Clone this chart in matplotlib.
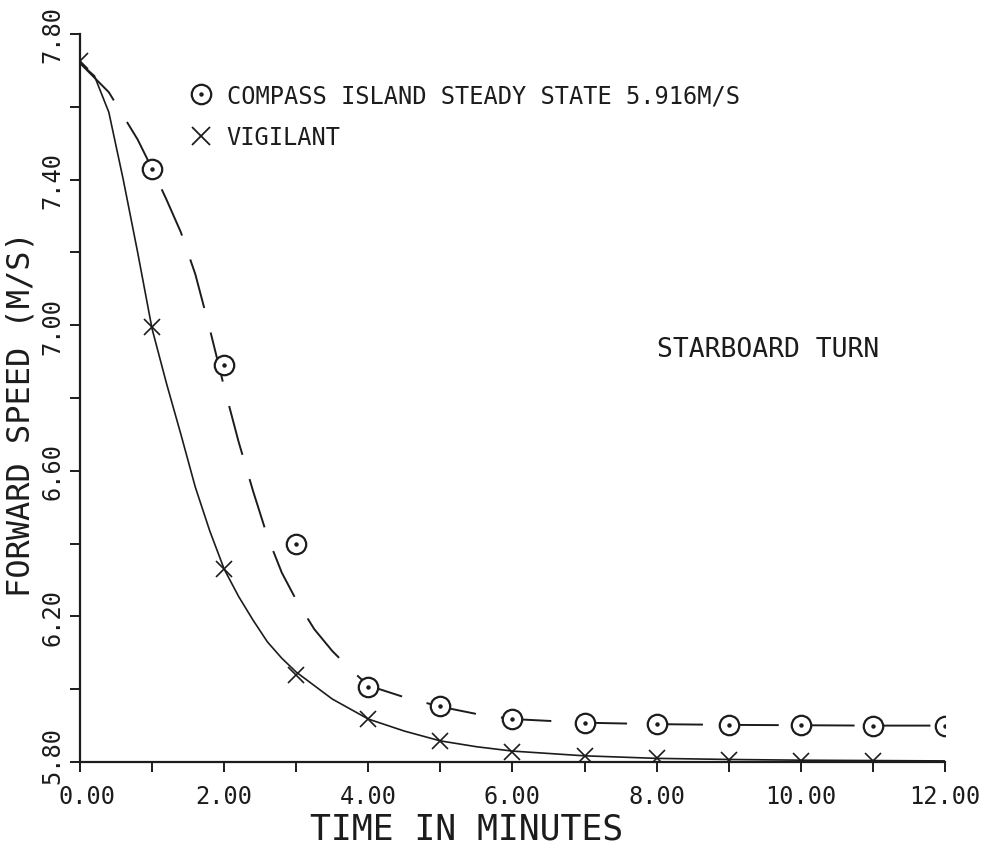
import matplotlib.pyplot as plt
from matplotlib.lines import Line2D
from matplotlib.ticker import FixedLocator, FormatStrFormatter
from matplotlib.transforms import offset_copy

# ship data points
time_compass = [1, 2, 3, 4, 5, 6, 7, 8, 9, 10, 11, 12]
speed_compass = [7.43, 6.89, 6.40, 6.006, 5.954, 5.918, 5.907, 5.904, 5.902, 5.902, 5.90, 5.90]
time_vigilant = [0, 1, 2, 3, 4, 5, 6, 7, 8, 9, 10, 11]
speed_vigilant = [7.725, 6.995, 6.33, 6.04, 5.918, 5.858, 5.828, 5.816, 5.811, 5.806, 5.804, 5.802]

# faired curves
curve_t_compass = [0, 0.2, 0.4, 0.6, 0.8, 1.0, 1.2, 1.4, 1.6, 1.8, 2.0, 2.2, 2.4, 2.6, 2.8,
                   3.0, 3.25, 3.5, 3.75, 4.0, 4.5, 5.0, 5.5, 6.0, 7, 8, 9, 10, 11, 12]
curve_v_compass = [7.72, 7.68, 7.64, 7.575, 7.51, 7.43, 7.345, 7.255, 7.14, 6.99, 6.83, 6.68,
                   6.545, 6.42, 6.32, 6.245, 6.165, 6.105, 6.055, 6.01, 5.978, 5.952, 5.932,
                   5.918, 5.908, 5.904, 5.902, 5.901, 5.90, 5.90]
curve_t_vigilant = [0, 0.2, 0.4, 0.6, 0.8, 1.0, 1.2, 1.4, 1.6, 1.8, 2.0, 2.2, 2.4, 2.6, 2.8,
                    3.0, 3.5, 4.0, 4.5, 5.0, 5.5, 6.0, 7, 8, 9, 10, 11, 12]
curve_v_vigilant = [7.72, 7.685, 7.585, 7.40, 7.20, 6.99, 6.84, 6.70, 6.555, 6.435, 6.33, 6.255,
                    6.19, 6.13, 6.085, 6.047, 5.973, 5.918, 5.885, 5.858, 5.842, 5.83, 5.817,
                    5.81, 5.807, 5.805, 5.804, 5.803]

# axis ticks
x_major = [0, 2, 4, 6, 8, 10, 12]
x_minor = [1, 3, 5, 7, 9, 11]
y_major = [5.80, 6.20, 6.60, 7.00, 7.40, 7.80]
y_minor = [6.00, 6.40, 6.80, 7.20, 7.60]

ink = '#1c1c1c'
plt.rcParams['font.family'] = ['DejaVu Sans Mono']

fig = plt.figure(figsize=(9.9, 8.53), dpi=100)
ax = fig.add_axes([0.0808, 0.1055, 0.8737, 0.8535])

# curves
ax.plot(curve_t_vigilant, curve_v_vigilant, color=ink, lw=1.2)
ax.plot(curve_t_compass, curve_v_compass, color=ink, lw=1.4, dashes=(26, 13))

# markers
ax.plot(time_vigilant, speed_vigilant, ls='none', marker='x', ms=11, mew=1.2, color=ink)
ax.plot(time_compass, speed_compass, ls='none', marker='o', ms=14, mew=1.6,
        mfc='white', mec=ink)
ax.plot(time_compass, speed_compass, ls='none', marker='o', ms=2.2, color=ink)

ax.set_xlim(0, 12)
ax.set_ylim(5.80, 7.80)
ax.xaxis.set_major_locator(FixedLocator(x_major))
ax.xaxis.set_minor_locator(FixedLocator(x_minor))
ax.yaxis.set_major_locator(FixedLocator(y_major))
ax.yaxis.set_minor_locator(FixedLocator(y_minor))
ax.xaxis.set_major_formatter(FormatStrFormatter('%.2f'))
ax.yaxis.set_major_formatter(FormatStrFormatter('%.2f'))

for s in ['top', 'right']:
    ax.spines[s].set_visible(False)
for s in ['left', 'bottom']:
    ax.spines[s].set_linewidth(1.6)
    ax.spines[s].set_color(ink)

ax.tick_params(which='both', direction='out', length=7, width=1.4, color=ink,
               labelsize=17, labelcolor=ink)
ax.tick_params(axis='x', pad=9)
ax.tick_params(axis='y', pad=4)
plt.setp(ax.get_yticklabels(), rotation=90, va='center')

# nudge the corner labels apart like the original plotter did
lab0 = ax.xaxis.get_major_ticks()[0].label1
lab0.set_transform(offset_copy(lab0.get_transform(), fig=fig, x=7, y=0, units='dots'))
laby0 = ax.yaxis.get_major_ticks()[0].label1
laby0.set_transform(offset_copy(laby0.get_transform(), fig=fig, x=0, y=8, units='dots'))

ax.set_xlabel('TIME IN MINUTES', fontsize=25, color=ink)
ax.xaxis.set_label_coords(0.447, -0.068)
ax.set_ylabel('FORWARD SPEED (M/S)', fontsize=23, color=ink)
ax.yaxis.set_label_coords(-0.05, 0.479)

ax.text(8.0, 6.935, 'STARBOARD TURN', fontsize=19, color=ink, va='center')

h_compass = (Line2D([], [], ls='none', marker='o', ms=14, mew=1.6, mfc='white', mec=ink),
             Line2D([], [], ls='none', marker='o', ms=2.2, color=ink))
h_vig = Line2D([], [], ls='none', marker='x', ms=13, mew=1.3, color=ink)
ax.legend([h_compass, h_vig], ['COMPASS ISLAND STEADY STATE 5.916M/S', 'VIGILANT'],
          loc='upper left', bbox_to_anchor=(0.115, 0.945), frameon=False,
          fontsize=17, handlelength=1.0, handletextpad=0.6, labelspacing=0.75,
          borderaxespad=0, labelcolor=ink)

fig.savefig('out.png', dpi=100, facecolor='white')
